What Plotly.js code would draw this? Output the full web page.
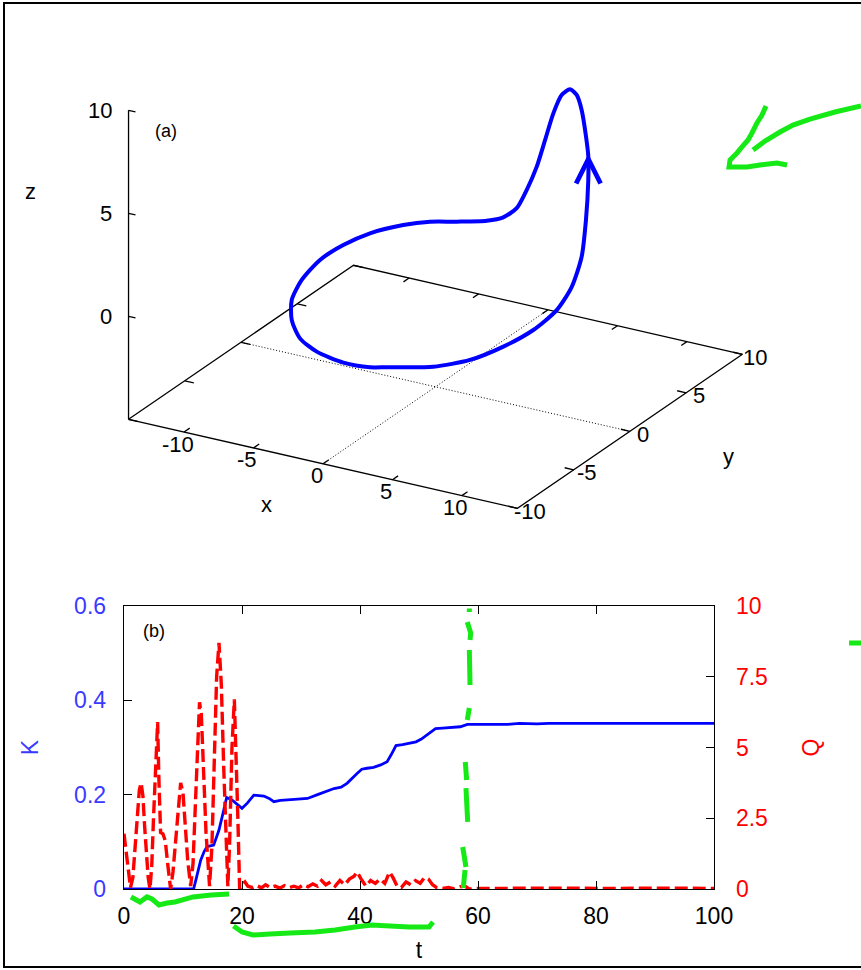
<!DOCTYPE html>
<html>
<head>
<meta charset="utf-8">
<script src="https://cdn.plot.ly/plotly-3.0.1.min.js"></script>
<style>html,body{margin:0;padding:0;background:#fff;}#chart{width:861px;height:970px;}</style>
</head>
<body>
<div id="chart"></div>
<script>
// ---------- panel (a): 3D trajectory (x, y, z) ----------
const trajX = [2.97, 5.75, 7.34, 8.53, 9.47, 9.94, 9.81, 9.55, 9.05, 8.57, 8.25, 7.76, 7.12, 6.52, 5.80, 4.95, 4.11, 3.27, 2.43, 1.46, 0.50, -0.71, -2.06, -4.39, -6.31, -7.99, -9.74, -10.69, -11.15, -11.09, -10.35, -8.89, -6.84, -4.34, -1.29, 1.36, 2.97];
const trajY = [-8, -7.3, -6, -4.5, -3, -1.5, 0, 1.2, 2.2, 3.0, 3.4, 3.8, 4.2, 4.5, 4.8, 5.1, 5.4, 5.7, 6.0, 6.3, 6.6, 6.9, 7.1, 7.3, 7.3, 7.0, 6.2, 5.0, 3.5, 1.8, 0, -1.8, -3.6, -5.2, -6.6, -7.5, -8];
const trajZ = [-0.60, -0.41, -0.32, -0.05, 0.34, 0.82, 1.37, 2.34, 3.67, 5.24, 6.17, 6.92, 7.97, 8.49, 8.54, 8.02, 6.89, 5.35, 3.82, 2.42, 1.28, 0.54, 0.09, -0.39, -0.69, -1.0, -1.37, -1.64, -1.87, -2.2, -2.38, -2.46, -2.36, -2.02, -1.56, -1.04, -0.60];
const arrowIndex = 10;
const xRange3 = [-14, 14], yRange3 = [-10, 10], zRange3 = [-5, 10];
const xTicks3 = [-10, -5, 0, 5, 10], yTicks3 = [-10, -5, 0, 5, 10], zTicks3 = [0, 5, 10];

// ---------- panel (b): K(t) and Q(t) ----------
const tK = [0, 11.8, 12.3, 13.0, 13.6, 14.1, 15.2, 16.1, 16.9, 17.4, 18.3, 19.2, 20.0, 20.9, 22.0, 23.7, 24.6, 25.4, 26.5, 27.7, 29.5, 31.1, 32.8, 34.2, 35.6, 36.8, 37.8, 39.5, 40.3, 41.2, 42.3, 43.5, 44.6, 45.3, 46.1, 47.2, 48.5, 49.5, 50.4, 51.3, 52.0, 52.8, 54, 55.5, 57, 58.2, 60, 63, 65, 67, 70, 72, 75, 80, 85, 90, 95, 100];
const K  = [0, 0, 0.025, 0.061, 0.08, 0.09, 0.093, 0.125, 0.167, 0.194, 0.189, 0.18, 0.171, 0.182, 0.199, 0.197, 0.192, 0.185, 0.188, 0.189, 0.19, 0.192, 0.2, 0.206, 0.213, 0.216, 0.224, 0.245, 0.254, 0.256, 0.258, 0.263, 0.27, 0.285, 0.304, 0.306, 0.31, 0.312, 0.318, 0.326, 0.334, 0.34, 0.341, 0.342, 0.344, 0.349, 0.349, 0.35, 0.349, 0.351, 0.35, 0.351, 0.351, 0.351, 0.351, 0.351, 0.351, 0.351];
const tQ = [0, 0.4, 0.8, 1.1, 1.5, 1.9, 2.3, 2.6, 2.9, 3.2, 3.5, 3.8, 4.1, 4.4, 4.7, 5.0, 5.3, 5.7, 5.9, 6.2, 6.6, 7.0, 7.4, 7.9, 8.3, 8.8, 9.2, 9.6, 10.0, 10.4, 10.8, 11.3, 11.7, 12.1, 12.5, 12.8, 13.1, 13.5, 13.9, 14.5, 14.9, 15.3, 15.7, 16.1, 16.5, 16.9, 17.3, 17.6, 17.9, 18.3, 18.7, 19.0, 19.3, 19.6,
  20.0, 20.5, 21.0, 21.8, 22.5, 23.3, 24.0, 24.8, 25.6, 26.4, 27.2, 28.0, 28.8, 29.6, 30.4, 31.2, 32.0, 32.8, 33.5, 34.2, 35.0, 35.8, 36.6, 37.4, 38.2, 39.0, 39.5, 40.2, 41.0, 41.8, 42.6, 43.4, 44.2, 45.0, 45.6, 46.3, 47.0, 47.8, 48.6, 49.4, 50.2, 50.9, 51.6, 52.3, 53.0, 54, 55, 56, 57, 57.8, 58.5, 60, 65, 70, 75, 80, 85, 90, 95, 100];
const Q  = [1.95, 1.2, 0.6, 0.05, 0.4, 1.5, 2.6, 3.5, 3.75, 3.3, 2.2, 1.2, 0.4, 0.0, 0.8, 2.5, 4.3, 5.9, 4.0, 2.0, 1.95, 1.7, 0.9, 0.0, 0.6, 1.9, 3.0, 3.75, 3.4, 2.0, 1.0, 0.1, 0.9, 3.0, 5.5, 6.6, 6.2, 4.2, 2.0, 0.1, 1.5, 4.5, 7.5, 8.7, 7.2, 4.3, 1.6, 0.1, 1.6, 5.0, 6.7, 5.0, 2.5, 0.0,
  0.15, 0.25, 0.1, 0.05, 0.12, 0.04, 0.15, 0.05, 0.1, 0.03, 0.12, 0.05, 0.1, 0.04, 0.15, 0.08, 0.18, 0.1, 0.3, 0.15, 0.25, 0.1, 0.3, 0.15, 0.35, 0.45, 0.6, 0.35, 0.1, 0.3, 0.2, 0.35, 0.2, 0.6, 0.4, 0.1, 0.05, 0.25, 0.15, 0.3, 0.2, 0.4, 0.35, 0.15, 0.05, 0.02, 0.05, 0.0, 0.08, 0.1, 0.0, 0.02, 0.03, 0.02, 0.03, 0.02, 0.03, 0.02, 0.03, 0.02];
const tTicks = [0, 20, 40, 60, 80, 100];
const kTicks = [0, 0.2, 0.4, 0.6], kTickText = ['0', '0.2', '0.4', '0.6'];
const qTicks = [0, 2.5, 5, 7.5, 10], qTickText = ['0', '2.5', '5', '7.5', '10'];

// ---------- styling / view ----------
const W = 861, H = 970;
const FONT = 'Liberation Sans, Arial, Helvetica, sans-serif';
const BLUE = '#0000ff', BLUETXT = '#3a3aff', RED = '#ff0000', GREEN = '#16ea16';
const FS = 23;
// oblique view of the 3D box (gnuplot-like): screen position of origin and screen vectors of unit x, y, z
const VIEW = { o: [435.5, 283.8], ex: [13.89, 3.18], ey: [11.25, -7.7], ez: [0, -20.6] };
function proj(x, y, z) {
  return [VIEW.o[0] + VIEW.ex[0] * x + VIEW.ey[0] * y + VIEW.ez[0] * z,
          VIEW.o[1] + VIEW.ex[1] * x + VIEW.ey[1] * y + VIEW.ez[1] * z];
}
function projLines(segs) { // segs: list of lists of [x,y,z]
  const X = [], Y = [];
  segs.forEach(s => { s.forEach(p => { const q = proj(p[0], p[1], p[2]); X.push(q[0]); Y.push(q[1]); }); X.push(null); Y.push(null); });
  return { x: X, y: Y };
}
function path(segs) {
  return segs.map(s => 'M' + s.map(p => (p[0] / W).toFixed(4) + ',' + (1 - p[1] / H).toFixed(4)).join('L')).join(' ');
}

const [x0, x1] = xRange3, [y0, y1] = yRange3, [z0, z1] = zRange3;
const boxL = projLines([[[x0, y0, z0], [x1, y0, z0], [x1, y1, z0], [x0, y1, z0], [x0, y0, z0]], [[x0, y0, z0], [x0, y0, z1]]]);
const zeroL = projLines([[[0, y0, z0], [0, y1, z0]], [[x0, 0, z0], [x1, 0, z0]]]);
const tk = 0.5;
const tickSegs = [];
xTicks3.forEach(v => { tickSegs.push([[v, y0, z0], [v, y0 + tk, z0]]); tickSegs.push([[v, y1, z0], [v, y1 - tk, z0]]); });
yTicks3.forEach(v => { tickSegs.push([[x1, v, z0], [x1 - tk * 1.3, v, z0]]); tickSegs.push([[x0, v, z0], [x0 + tk * 1.3, v, z0]]); });
zTicks3.forEach(v => { tickSegs.push([[x0, y0, v], [x0 + tk, y0, v]]); });
const tickL = projLines(tickSegs);
const curve = { x: [], y: [] };
trajX.forEach((xv, i) => { const q = proj(xv, trajY[i], trajZ[i]); curve.x.push(q[0]); curve.y.push(q[1]); });
const arrowPt = proj(trajX[arrowIndex], trajY[arrowIndex], trajZ[arrowIndex]);

const on3 = { xaxis: 'x2', yaxis: 'y3', hoverinfo: 'skip', showlegend: false };
const traces = [
  Object.assign({ type: 'scatter', mode: 'lines', x: boxL.x, y: boxL.y, line: { color: '#000', width: 1.3 } }, on3),
  Object.assign({ type: 'scatter', mode: 'lines', x: zeroL.x, y: zeroL.y, line: { color: '#000', width: 1, dash: '1px,2px' } }, on3),
  Object.assign({ type: 'scatter', mode: 'lines', x: tickL.x, y: tickL.y, line: { color: '#000', width: 1.3 } }, on3),
  Object.assign({ type: 'scatter', mode: 'lines', name: 'trajectory', x: curve.x, y: curve.y,
    line: { color: BLUE, width: 4, shape: 'spline', smoothing: 0.7 } }, on3),
  { type: 'scatter', mode: 'lines', name: 'K', x: tK, y: K, xaxis: 'x', yaxis: 'y',
    line: { color: BLUE, width: 2.8 }, showlegend: false },
  { type: 'scatter', mode: 'lines', name: 'Q', x: tQ, y: Q, xaxis: 'x', yaxis: 'y2',
    line: { color: RED, width: 3.4, dash: '13px,5px' }, showlegend: false }
];

// 3D tick labels and axis titles, placed next to the projected tick positions
const ann = [];
const lab = (x, y, text, xa, extra) => Object.assign({ xref: 'x2', yref: 'y3', x: x, y: y, text: text, showarrow: false,
  xanchor: xa || 'center', yanchor: 'middle', font: { family: FONT, size: FS - 1, color: '#000' } }, extra || {});
xTicks3.forEach(v => { const p = proj(v, y0, z0); ann.push(lab(p[0] - 6.5, p[1] + 12, String(v))); });
yTicks3.forEach(v => { const p = proj(x1, v, z0); ann.push(lab(p[0] + 13, p[1] + 3, String(v))); });
zTicks3.forEach(v => { const p = proj(x0, y0, v); ann.push(lab(p[0] - 15, p[1], String(v), 'right')); });
ann.push(lab(266.5, 504, 'x'));
ann.push(lab(728, 456, 'y'));
ann.push(lab(30, 191, 'z'));
ann.push(lab(166, 131, '(a)', 'center', { font: { family: FONT, size: 18, color: '#000' } }));
ann.push({ xref: 'x2', yref: 'y3', x: arrowPt[0], y: arrowPt[1] - 3, ax: 0, ay: 28, text: '', showarrow: true,
  arrowhead: 5, arrowsize: 1.6, arrowwidth: 3, arrowcolor: BLUE });
ann.push({ xref: 'x', yref: 'y', x: 5.0, y: 0.547, text: '(b)', showarrow: false, font: { family: FONT, size: 18, color: '#000' } });

const layout = {
  width: W, height: H, margin: { l: 0, r: 0, t: 0, b: 0 },
  paper_bgcolor: '#fff', plot_bgcolor: 'rgba(0,0,0,0)', font: { family: FONT, size: FS, color: '#000' },
  showlegend: false,
  xaxis2: { domain: [0, 1], range: [0, W], visible: false, anchor: 'y3', fixedrange: true },
  yaxis3: { domain: [0, 1], range: [H, 0], visible: false, anchor: 'x2', fixedrange: true },
  xaxis: {
    domain: [124 / W, 714 / W], range: [0, 100], tickvals: tTicks, ticks: 'inside', ticklen: 8, tickcolor: '#000',
    showline: true, linecolor: '#000', linewidth: 1.3, mirror: 'ticks', showgrid: false, zeroline: false,
    tickfont: { family: FONT, size: FS, color: '#000' }, anchor: 'y', automargin: false, ticklabelstandoff: 6,
    title: { text: 't', font: { family: FONT, size: FS, color: '#000' }, standoff: 14 }
  },
  yaxis: {
    domain: [1 - 889 / H, 1 - 606 / H], range: [0, 0.6], tickvals: kTicks, ticktext: kTickText, ticks: 'inside', ticklen: 8,
    tickcolor: '#000', showline: true, linecolor: '#000', linewidth: 1.3, showgrid: false, zeroline: false,
    tickfont: { family: FONT, size: FS, color: BLUETXT }, anchor: 'x', automargin: false, ticklabelstandoff: 12,
    title: { text: 'K', font: { family: FONT, size: FS, color: BLUETXT }, standoff: 29 }
  },
  yaxis2: {
    overlaying: 'y', side: 'right', anchor: 'x', range: [0, 10], tickvals: qTicks, ticktext: qTickText, ticks: 'inside', ticklen: 8,
    tickcolor: '#000', showline: true, linecolor: '#000', linewidth: 1.3, showgrid: false, zeroline: false,
    tickfont: { family: FONT, size: FS, color: RED }, automargin: false, ticklabelstandoff: 16,
    title: { text: 'Q', font: { family: FONT, size: FS, color: RED }, standoff: 36 }
  },
  annotations: ann,
  shapes: [
    { type: 'rect', xref: 'paper', yref: 'paper', x0: 4 / W, x1: 1.02, y0: 1 - 967 / H, y1: 1 - 3 / H, line: { color: '#000', width: 2 } },
    { type: 'path', xref: 'paper', yref: 'paper', line: { color: GREEN, width: 5 },
      path: path([[[861, 106], [835, 112], [810, 119], [793, 125], [780, 132], [765, 141], [753, 150]],
                  [[766, 106], [762, 115], [757, 123], [752, 133], [748, 140], [742, 147], [737, 153], [730, 160], [729, 167], [738, 167], [747, 167], [760, 165], [777, 163], [787, 165]],
                  [[849, 643], [861, 643]]]) },
    { type: 'path', xref: 'paper', yref: 'paper', line: { color: GREEN, width: 5 },
      path: path([[[469.3, 608.5], [469.3, 612]], [[467.3, 622], [470.7, 633], [470, 640]], [[469.3, 650], [470, 685]],
                  [[469.3, 708], [467.3, 720]], [[465.3, 762], [466.7, 780]], [[466, 788], [467.7, 822]],
                  [[462.7, 847], [466, 867]], [[465, 870], [463.3, 888]]]) },
    { type: 'path', xref: 'paper', yref: 'paper', line: { color: GREEN, width: 5 },
      path: path([[[131, 897], [140, 902], [147, 897], [152, 899], [159, 905], [167, 903], [175, 902], [193, 897], [211, 895], [229, 894]],
                  [[233.5, 926], [242, 932], [253, 935], [270, 934], [290, 933], [315, 932], [335, 930], [355, 927], [372, 925], [390, 926], [409, 927], [429, 927], [433, 922]]]) }
  ]
};

Plotly.newPlot('chart', traces, layout, { displayModeBar: false, staticPlot: true });
</script>
</body>
</html>
